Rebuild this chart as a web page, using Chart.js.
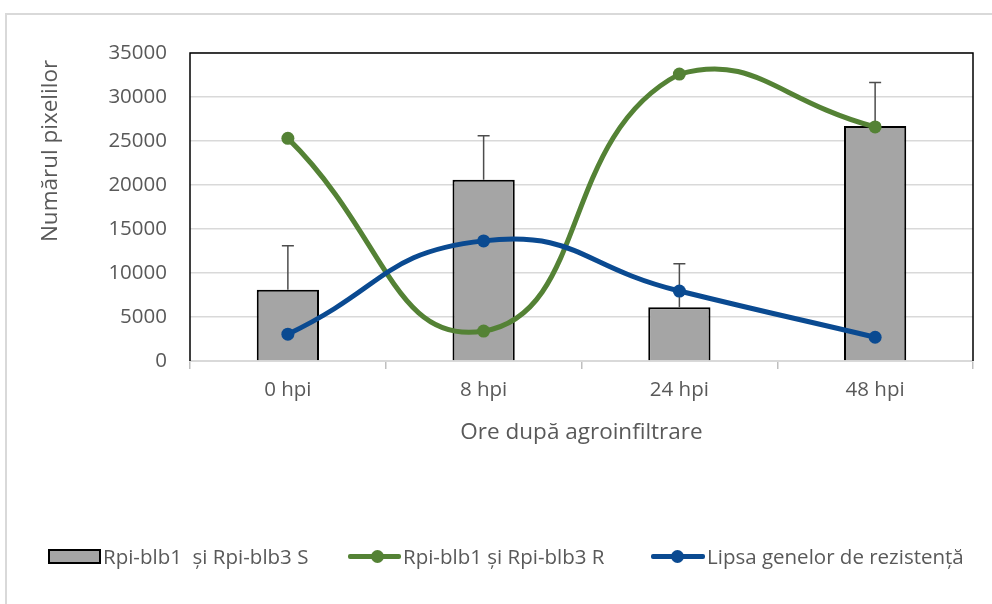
<!DOCTYPE html>
<html>
<head>
<meta charset="utf-8">
<script src="https://cdn.jsdelivr.net/npm/chart.js@4"></script>
<style>
  body { margin:0; background:#fff; font-family:'Open Sans', sans-serif; }
  .wrap { position:relative; width:992px; height:604px; overflow:hidden; }
  .frame { position:absolute; left:5px; top:13px; width:1100px; height:700px; border:2px solid #d9d9d9; }
  canvas { position:absolute; left:0; top:0; }
  .lg { position:absolute; top:545px; height:22px; line-height:22px; font-size:20.5px; color:#595959; white-space:pre; }
  .sw { position:absolute; top:4px; left:0; width:49px; height:11px; background:#a5a5a5; border:2px solid #000; }
  .ln { position:absolute; top:9px; left:0; height:5px; border-radius:2px; }
  .dot { position:absolute; top:5px; width:13px; height:13px; border-radius:50%; }
</style>
</head>
<body>
<div class="wrap">
  <div class="frame"></div>
  <canvas id="chart" width="992" height="604"></canvas>
  <div class="lg" style="left:48px"><span class="sw"></span><span style="margin-left:55px">Rpi-blb1  și Rpi-blb3 S</span></div>
  <div class="lg" style="left:348px"><span class="ln" style="width:53px;background:#548235"></span><span class="dot" style="left:23px;background:#548235"></span><span style="margin-left:55px">Rpi-blb1 și Rpi-blb3 R</span></div>
  <div class="lg" style="left:651px"><span class="ln" style="width:54px;background:#0a4a91"></span><span class="dot" style="left:20px;background:#0a4a91"></span><span style="margin-left:56px">Lipsa genelor de rezistență</span></div>
</div>
<script>
// ── data ──
const categories = ['0 hpi', '8 hpi', '24 hpi', '48 hpi'];
const susceptible = [8100, 20600, 6100, 26700];
const susceptibleErr = [5000, 5000, 4950, 4950];
const resistant = [25300, 3400, 32600, 26600];
const noGenes = [3050, 13650, 7950, 2700];
const yMax = 35000, yStep = 5000;

const TEXT = '#595959';
const FONT = 'Open Sans';

// black frame on top/left/right of the plot area
const plotFrame = {
  id: 'plotFrame',
  beforeDatasetsDraw(chart) {
    const { ctx, chartArea: a } = chart;
    ctx.save();
    ctx.strokeStyle = '#000';
    ctx.lineWidth = 1.5;
    ctx.beginPath();
    ctx.moveTo(a.left, a.bottom);
    ctx.lineTo(a.left, a.top);
    ctx.lineTo(a.right, a.top);
    ctx.lineTo(a.right, a.bottom);
    ctx.stroke();
    ctx.restore();
  }
};

// plus-only error bars on the bar series
const errorBars = {
  id: 'errorBars',
  afterDatasetDraw(chart, args) {
    if (args.index !== 0) return;
    const { ctx } = chart;
    const yScale = chart.scales.y;
    ctx.save();
    ctx.strokeStyle = '#4d4d4d';
    ctx.lineWidth = 1.5;
    args.meta.data.forEach((bar, i) => {
      const top = yScale.getPixelForValue(susceptible[i] + susceptibleErr[i]);
      ctx.beginPath();
      ctx.moveTo(bar.x, bar.y);
      ctx.lineTo(bar.x, top);
      ctx.moveTo(bar.x - 6, top);
      ctx.lineTo(bar.x + 6, top);
      ctx.stroke();
    });
    ctx.restore();
  }
};

// y axis title, placed like the original
const yTitle = {
  id: 'yTitle',
  afterDraw(chart) {
    const { ctx } = chart;
    ctx.save();
    ctx.translate(51, 151);
    ctx.rotate(-Math.PI / 2);
    ctx.fillStyle = TEXT;
    ctx.font = `22.5px "${FONT}"`;
    ctx.textAlign = 'center';
    ctx.textBaseline = 'middle';
    ctx.fillText('Numărul pixelilor', 0, 0);
    ctx.restore();
  }
};

new Chart(document.getElementById('chart'), {
  data: {
    labels: categories,
    datasets: [
      {
        type: 'bar', label: 'Rpi-blb1  și Rpi-blb3 S', data: susceptible, order: 2,
        backgroundColor: '#a5a5a5', borderColor: '#000', borderWidth: 2,
        categoryPercentage: 1, barPercentage: 0.318
      },
      {
        type: 'line', label: 'Rpi-blb1 și Rpi-blb3 R', data: resistant, order: 1,
        borderColor: '#548235', backgroundColor: '#548235', borderWidth: 5,
        pointRadius: 6.5, pointBorderWidth: 0, tension: 0.5
      },
      {
        type: 'line', label: 'Lipsa genelor de rezistență', data: noGenes, order: 0,
        borderColor: '#0a4a91', backgroundColor: '#0a4a91', borderWidth: 5,
        pointRadius: 6.5, pointBorderWidth: 0, tension: 0.5
      }
    ]
  },
  options: {
    responsive: false,
    animation: false,
    layout: { padding: { top: 53, right: 19, left: 0, bottom: 0 } },
    plugins: { legend: { display: false }, tooltip: { enabled: false } },
    scales: {
      x: {
        afterFit: s => { s.height = 243; },
        grid: { offset: true, drawOnChartArea: false, drawTicks: true, tickLength: 8, color: '#bfbfbf', lineWidth: 1.5 },
        border: { color: '#d9d9d9', width: 2 },
        ticks: { color: TEXT, font: { family: FONT, size: 20.5 }, padding: 9 },
        title: { display: true, text: 'Ore după agroinfiltrare', color: TEXT, font: { family: FONT, size: 22.5 }, padding: { top: 0, bottom: 158 } }
      },
      y: {
        min: 0, max: yMax,
        afterFit: s => { s.width = 190; },
        grid: { color: '#d9d9d9', lineWidth: 1.5, drawTicks: false },
        border: { display: false },
        ticks: { stepSize: yStep, color: TEXT, font: { family: FONT, size: 20.5 }, padding: 23, callback: v => String(v) }
      }
    }
  },
  plugins: [plotFrame, errorBars, yTitle]
});
</script>
</body>
</html>
